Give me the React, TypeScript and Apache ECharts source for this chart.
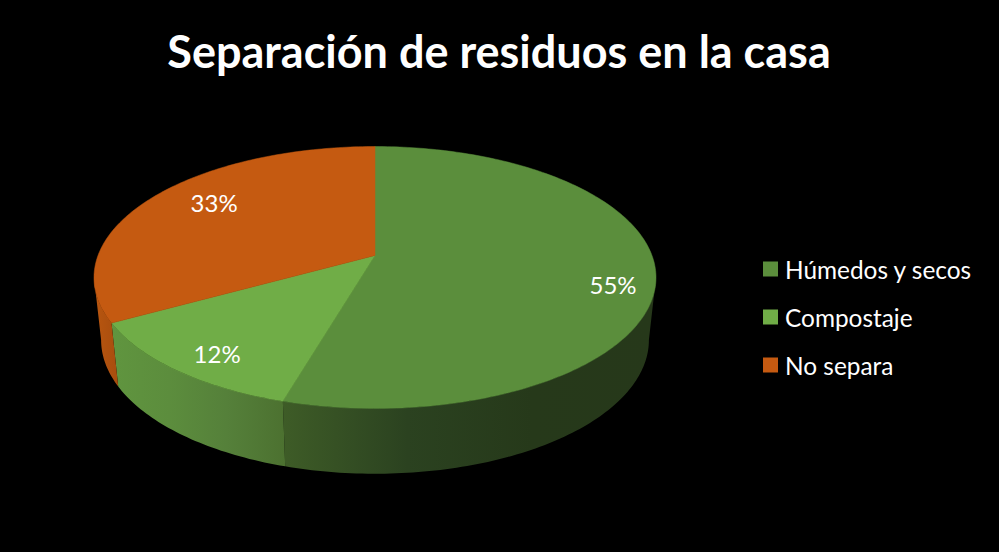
import React, { useEffect, useRef } from "react";
import * as echarts from "echarts";

const titleText = "Separación de residuos en la casa";
const categories = ["Húmedos y secos", "Compostaje", "No separa"];
const shares = [54.5, 12.4, 33.1];

const topColors = ["#5B8E3C", "#70AD47", "#C55A11"];
const wallStops: string[][] = [
  ["#3E5C27", "#2B4220", "#26391A", "#26381A"],
  ["#60953F", "#5C8D3D", "#55803A", "#4C7130"],
  ["#B8560F", "#B3530F", "#AD500F", "#A84E0E"],
];
const labelRadius = [0.858, 0.853, 0.757];
const labelTurn = [7.7, -2.3, 4.2];

// Perspective of the tilted disc
const CX = 375;
const TOP = { cy: 255.5, a: 277, b: 127.3 };
const BOTTOM = { cy: 317.5, a: 270, b: 130 };
const K = -0.168;
const WALL_FROM = 99.7;
const WALL_TO = 260.3;

function project(rim: { cy: number; a: number; b: number }, deg: number, r = 1): number[] {
  const t = (deg * Math.PI) / 180;
  const u = r * Math.sin(t);
  const v = -r * Math.cos(t);
  const d = 1 + K * v;
  return [CX + (rim.a * u) / d, rim.cy + (rim.b * v) / d];
}

function arcPoints(rim: any, from: number, to: number): number[][] {
  const n = Math.max(2, Math.ceil(Math.abs(to - from)));
  const pts: number[][] = [];
  for (let i = 0; i <= n; i++) pts.push(project(rim, from + ((to - from) * i) / n));
  return pts;
}

function sliceRender(index: number) {
  return (_params: any, api: any) => {
    const start = api.value(0) * 3.6;
    const end = start + api.value(1) * 3.6;
    const children: any[] = [];
    const wFrom = Math.max(start, WALL_FROM);
    const wTo = Math.min(end, WALL_TO);
    if (wTo > wFrom) {
      const stops = wallStops[index];
      children.push({
        type: "polygon",
        shape: { points: [...arcPoints(TOP, wFrom, wTo), ...arcPoints(BOTTOM, wTo, wFrom)] },
        style: {
          fill: new echarts.graphic.LinearGradient(
            0, 0, 1, 0,
            stops.map((color, i) => ({ offset: i / (stops.length - 1), color })),
          ),
          stroke: "none",
        },
      });
    }
    children.push({
      type: "polygon",
      shape: { points: [[CX, TOP.cy], ...arcPoints(TOP, start, end)] },
      style: { fill: topColors[index], stroke: topColors[index], lineWidth: 0.5 },
    });
    const [lx, ly] = project(TOP, (start + end) / 2 + labelTurn[index], labelRadius[index]);
    children.push({
      type: "text",
      x: lx,
      y: ly - 1.5,
      style: {
        text: `${Math.round(api.value(1))}%`,
        fill: "#FFFFFF",
        font: '400 24px Lato, "Open Sans", sans-serif',
        align: "center",
        verticalAlign: "middle",
      },
    });
    return { type: "group", children };
  };
}

export default function App() {
  const ref = useRef<HTMLDivElement>(null);
  useEffect(() => {
    const chart = echarts.init(ref.current!, undefined, { renderer: "svg" });
    let acc = 0;
    const series = categories.map((name, i) => {
      const startShare = acc;
      acc += shares[i];
      return {
        type: "custom" as const,
        name,
        coordinateSystem: "none",
        itemStyle: { color: topColors[i] },
        renderItem: sliceRender(i),
        data: [[startShare, shares[i]]],
        silent: true,
      };
    });
    chart.setOption({
      animation: false,
      backgroundColor: "#000000",
      title: {
        text: titleText,
        left: 494,
        top: 23,
        textAlign: "center",
        textStyle: { color: "#FFFFFF", fontFamily: "Lato", fontWeight: 700, fontSize: 45 },
      },
      legend: {
        orient: "vertical",
        left: 758,
        top: 252,
        data: categories,
        icon: "rect",
        itemWidth: 15,
        itemHeight: 15,
        itemGap: 24,
        selectedMode: false,
        textStyle: { color: "#FFFFFF", fontFamily: "Lato", fontSize: 24.4, padding: [0, 0, 0, 2] },
      },
      series,
    });
    return () => chart.dispose();
  }, []);
  return (
    <div
      ref={ref}
      style={{ position: "fixed", left: 0, top: 0, width: 999, height: 552, background: "#000" }}
    />
  );
}
